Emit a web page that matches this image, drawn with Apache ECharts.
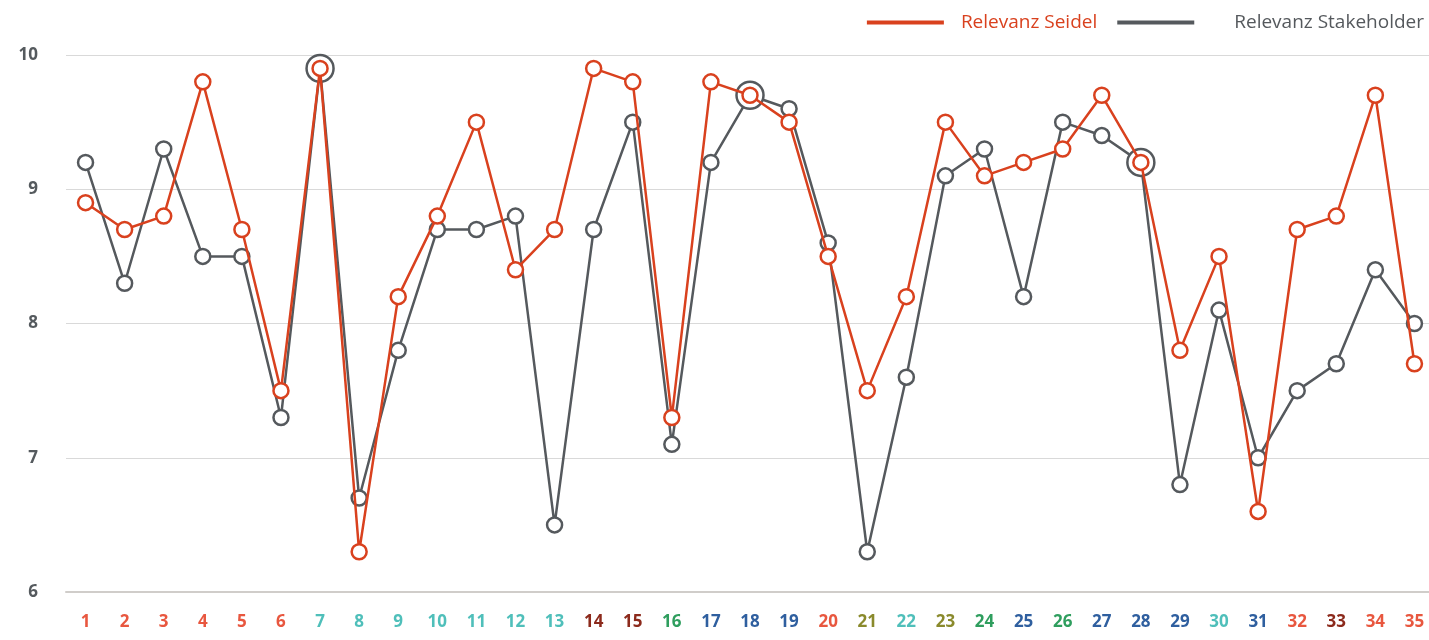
<!DOCTYPE html>
<html>
<head>
<meta charset="utf-8">
<script src="https://cdn.jsdelivr.net/npm/echarts@6/dist/echarts.min.js"></script>
<style>
  html, body { margin: 0; padding: 0; background: #fff; }
  #chart { width: 1429px; height: 640px; }
</style>
</head>
<body>
<div id="chart"></div>
<script>
var categories = ['1','2','3','4','5','6','7','8','9','10','11','12','13','14','15','16','17','18',
  '19','20','21','22','23','24','25','26','27','28','29','30','31','32','33','34','35'];
var seidel = [8.9, 8.7, 8.8, 9.8, 8.7, 7.5, 9.9, 6.3, 8.2, 8.8, 9.5, 8.4, 8.7, 9.9, 9.8, 7.3, 9.8, 9.7,
  9.5, 8.5, 7.5, 8.2, 9.5, 9.1, 9.2, 9.3, 9.7, 9.2, 7.8, 8.5, 6.6, 8.7, 8.8, 9.7, 7.7];
var stakeholder = [9.2, 8.3, 9.3, 8.5, 8.5, 7.3, 9.9, 6.7, 7.8, 8.7, 8.7, 8.8, 6.5, 8.7, 9.5, 7.1, 9.2, 9.7,
  9.6, 8.6, 6.3, 7.6, 9.1, 9.3, 8.2, 9.5, 9.4, 9.2, 6.8, 8.1, 7.0, 7.5, 7.7, 8.4, 8.0];
// colour group of each category label
var labelGroups = ['r','r','r','r','r','r','t','t','t','t','t','t','t','d','d','g','b','b',
  'b','r','o','t','o','g','b','g','b','b','b','t','b','r','d','r','r'];

var groupColors = { r: '#e8573f', t: '#4fbfba', d: '#8c2a1c', g: '#2f9e5e', b: '#2f5f9f', o: '#8a8a2c' };
var RED = '#d9411e';
var GRAY = '#55595d';
var FONT = "'Open Sans', sans-serif";

var chart = echarts.init(document.getElementById('chart'));

var option = {
  backgroundColor: '#ffffff',
  animation: false,
  legend: {
    right: 0,
    top: 8,
    icon: 'rect',
    itemWidth: 75,
    itemHeight: 2,
    itemGap: 20,
    textStyle: { fontFamily: FONT, fontSize: 19 },
    data: [
      { name: 'Relevanz Seidel', itemStyle: { color: RED },
        textStyle: { color: RED, padding: [0, 0, 0, 13] } },
      { name: 'Relevanz Stakeholder', itemStyle: { color: GRAY },
        textStyle: { color: GRAY, padding: [0, 0, 0, 36] } }
    ]
  },
  grid: {
    left: 66,
    right: -5,
    top: 55,
    bottom: 48,
    outerBoundsMode: 'none'
  },
  xAxis: {
    type: 'category',
    data: categories,
    boundaryGap: true,
    axisLine: { lineStyle: { color: '#d0cdca', width: 2 } },
    axisTick: { show: false },
    axisLabel: {
      margin: 22,
      fontFamily: FONT,
      fontSize: 17,
      fontWeight: 'bold',
      color: function (value, index) {
        return groupColors[labelGroups[index]];
      }
    }
  },
  yAxis: {
    type: 'value',
    min: 6,
    max: 10,
    interval: 1,
    axisLine: { show: false },
    axisTick: { show: false },
    splitLine: { lineStyle: { color: '#d9d9d9', width: 1 } },
    axisLabel: {
      margin: 28,
      fontFamily: FONT,
      fontSize: 17,
      fontWeight: 'bold',
      color: '#555a5e'
    }
  },
  series: [
    {
      name: 'Relevanz Stakeholder',
      type: 'line',
      data: stakeholder,
      symbol: 'circle',
      symbolSize: function (val, params) {
        return seidel[params.dataIndex] === stakeholder[params.dataIndex] ? 27 : 15;
      },
      lineStyle: { color: GRAY, width: 2.5 },
      itemStyle: { color: '#ffffff', borderColor: GRAY, borderWidth: 2.5 },
      emphasis: { disabled: true },
      z: 2
    },
    {
      name: 'Relevanz Seidel',
      type: 'line',
      data: seidel,
      symbol: 'circle',
      symbolSize: 15,
      lineStyle: { color: RED, width: 2.5 },
      itemStyle: { color: '#ffffff', borderColor: RED, borderWidth: 2.5 },
      emphasis: { disabled: true },
      z: 3
    }
  ]
};

chart.setOption(option);
</script>
</body>
</html>
